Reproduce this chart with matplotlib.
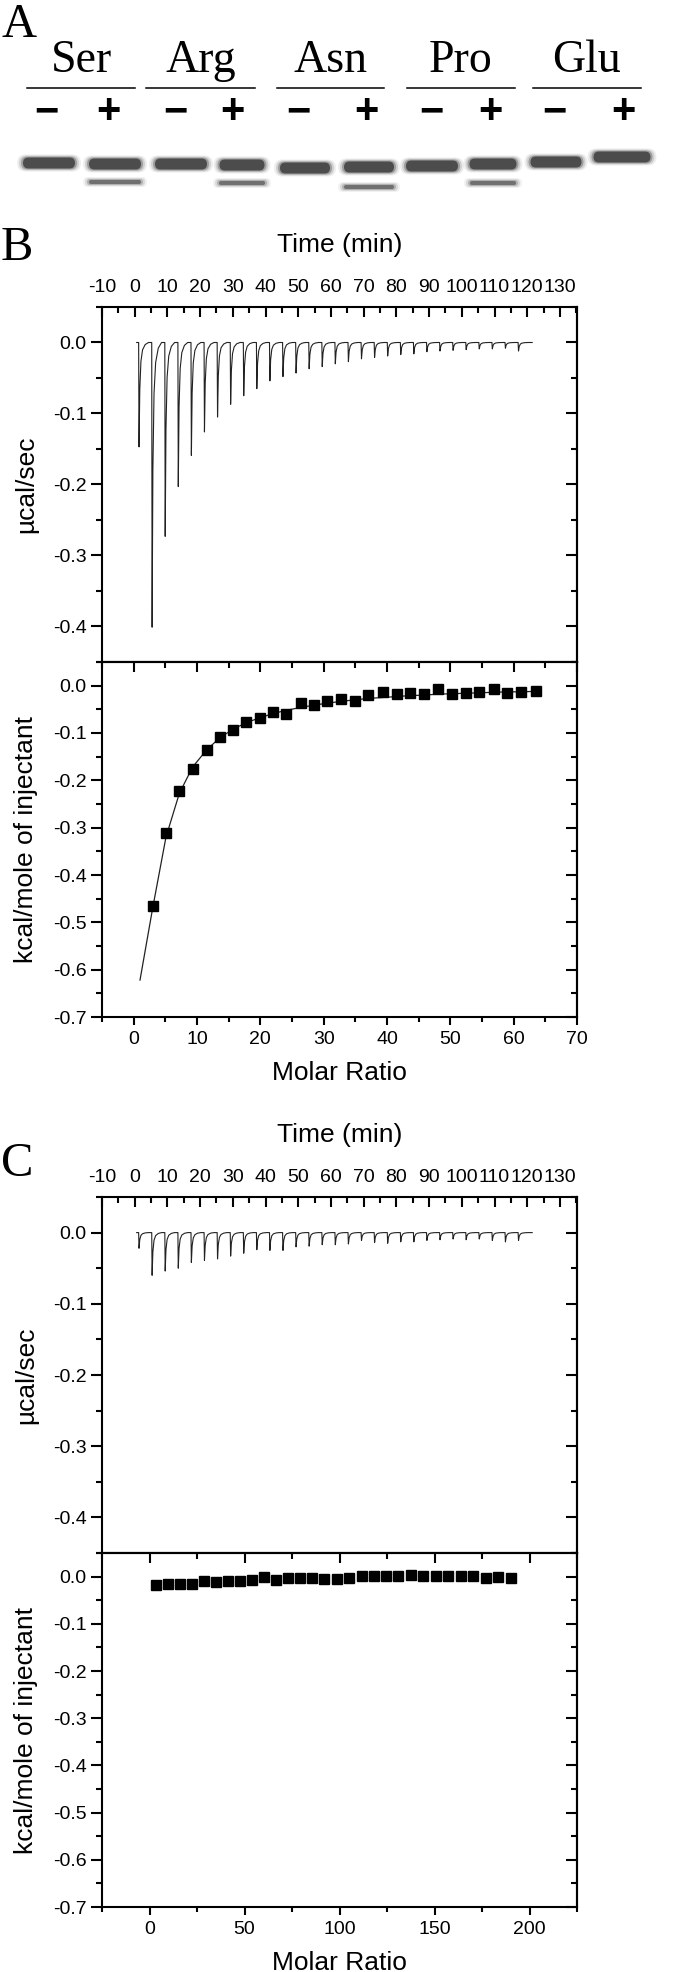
import matplotlib
matplotlib.use('Agg')
import matplotlib.pyplot as plt
from matplotlib.patches import FancyBboxPatch
from matplotlib.ticker import MultipleLocator, FormatStrFormatter

W, H = 680, 1972

plt.rcParams['font.family'] = ['Liberation Sans', 'DejaVu Sans']
plt.rcParams['axes.unicode_minus'] = False

# ---- panel A: gel ----
lane_names = ['Ser', 'Arg', 'Asn', 'Pro', 'Glu']
group_x = [(27, 135), (146, 255), (277, 384), (407, 515), (533, 641)]
lane_x = [49, 115, 181, 242, 305, 369, 432, 493, 556, 622]
lane_sign = ['−', '+'] * 5
sign_x = [46, 108, 175, 232, 298, 366, 431, 490, 554, 623]
lane_w = [52, 52, 52, 45, 50, 50, 52, 47, 51, 57]
main_y = [163, 164, 164, 165, 168, 167, 166, 164, 162, 157]
lower_y = [None, 182, None, 183, None, 187, None, 183, None, None]
lower_w = [0, 52, 0, 46, 0, 50, 0, 46, 0, 0]

# ---- panel B / C: raw ITC traces ----
inj_time = [1.2, 5.2, 9.2, 13.2, 17.2, 21.2, 25.2, 29.2, 33.2, 37.2,
            41.2, 45.2, 49.2, 53.2, 57.2, 61.2, 65.2, 69.2, 73.2, 77.2,
            81.2, 85.2, 89.2, 93.2, 97.2, 101.2, 105.2, 109.2, 113.2, 117.2]
peak_b = [0.147, 0.401, 0.273, 0.203, 0.159, 0.126, 0.105, 0.087, 0.075, 0.065,
          0.054, 0.048, 0.043, 0.037, 0.034, 0.030, 0.027, 0.023, 0.021, 0.019,
          0.017, 0.016, 0.013, 0.012, 0.011, 0.010, 0.009, 0.009, 0.008, 0.012]
peak_c = [0.022, 0.060, 0.054, 0.050, 0.042, 0.039, 0.037, 0.033, 0.029, 0.024,
          0.025, 0.025, 0.020, 0.019, 0.017, 0.017, 0.016, 0.011, 0.014, 0.015,
          0.013, 0.013, 0.011, 0.010, 0.009, 0.010, 0.009, 0.011, 0.013, 0.011]

# ---- integrated heats ----
ratio_b = [3.0, 5.1, 7.2, 9.3, 11.5, 13.6, 15.7, 17.8, 19.9, 22.0,
           24.1, 26.4, 28.5, 30.6, 32.8, 34.9, 37.0, 39.3, 41.5, 43.6,
           45.8, 48.0, 50.2, 52.5, 54.6, 56.9, 59.0, 61.2, 63.5]
heat_b = [-0.465, -0.311, -0.223, -0.176, -0.136, -0.108, -0.093, -0.076, -0.069, -0.055,
          -0.060, -0.037, -0.041, -0.033, -0.028, -0.032, -0.019, -0.013, -0.018, -0.015,
          -0.018, -0.008, -0.018, -0.015, -0.014, -0.006, -0.015, -0.013, -0.011]
fit_x = [1.0, 3.0, 5.1, 7.2, 9.3, 11.5, 13.6, 15.7, 17.8, 19.9, 22.0, 24.1, 26.4,
         28.5, 30.6, 32.8, 34.9, 37.0, 39.3, 41.5, 43.6, 45.8, 48.0, 50.2, 52.5,
         54.6, 56.9, 59.0, 61.2, 63.5]
fit_y = [-0.622, -0.470, -0.320, -0.228, -0.172, -0.136, -0.110, -0.092, -0.078, -0.068,
         -0.059, -0.052, -0.046, -0.041, -0.037, -0.033, -0.030, -0.027, -0.025, -0.023,
         -0.021, -0.020, -0.018, -0.017, -0.016, -0.015, -0.014, -0.013, -0.013, -0.012]
ratio_c = [3.3, 9.6, 15.9, 22.3, 28.6, 34.9, 41.3, 47.6, 53.9, 60.0,
           66.4, 72.7, 79.0, 85.6, 91.9, 98.5, 105.0, 111.6, 117.9, 124.5,
           131.0, 137.6, 144.1, 150.7, 157.2, 163.8, 170.5, 177.1, 183.6, 190.2]
heat_c = [-0.0176, -0.0148, -0.0148, -0.0148, -0.0092, -0.0113, -0.0099, -0.0099, -0.0077, -0.0007,
          -0.0070, -0.0035, -0.0021, -0.0021, -0.0042, -0.0042, -0.0035, 0.0007, 0.0014, 0.0007,
          0.0021, 0.0035, 0.0007, 0.0020, 0.0020, 0.0020, 0.0014, -0.0035, -0.0007, -0.0020]

LEFT, RIGHT = 102, 577


def rect(l, t, r, b):
    return [l / W, 1 - b / H, (r - l) / W, (b - t) / H]


def style_left(ax):
    ax.yaxis.set_major_locator(MultipleLocator(0.1))
    ax.yaxis.set_minor_locator(MultipleLocator(0.05))
    ax.yaxis.set_major_formatter(FormatStrFormatter('%.1f'))
    ax.tick_params(axis='y', which='both', direction='out', left=True, right=False,
                   labelsize=14, pad=3, width=1.5)
    ax.tick_params(axis='y', which='major', length=8)
    ax.tick_params(axis='y', which='minor', length=4.5)
    sec = ax.secondary_yaxis('right')
    sec.yaxis.set_major_locator(MultipleLocator(0.1))
    sec.yaxis.set_minor_locator(MultipleLocator(0.05))
    sec.tick_params(which='both', direction='in', labelright=False, width=1.5)
    sec.tick_params(which='major', length=8)
    sec.tick_params(which='minor', length=4.5)
    sec.spines['right'].set_linewidth(1.5)
    for s in ax.spines.values():
        s.set_linewidth(1.5)
    ax.yaxis.set_label_coords(-0.135, 0.5)


def raw_panel(ax, depths):
    shape_dt = [0.0, 0.12, 0.35, 0.7, 1.2, 2.0, 3.0]
    shape_fr = [0.0, 1.0, 0.45, 0.18, 0.07, 0.02, 0.0]
    tt, yy = [0.6], [0.0]
    for t, d in zip(inj_time, depths):
        for dt, fr in zip(shape_dt, shape_fr):
            tt.append(t + dt)
            yy.append(-d * fr)
    tt.append(121.5)
    yy.append(0.0)
    ax.plot(tt, yy, color='#222222', lw=0.8)
    ax.set_xlim(-10, 135.2)
    ax.set_ylim(-0.45, 0.05)
    ax.xaxis.tick_top()
    ax.xaxis.set_label_position('top')
    ax.xaxis.set_major_locator(MultipleLocator(10))
    ax.xaxis.set_minor_locator(MultipleLocator(5))
    ax.tick_params(axis='x', which='both', direction='in', top=True, bottom=False,
                   labeltop=True, labelbottom=False, labelsize=14, pad=8, width=1.5)
    ax.tick_params(axis='x', which='major', length=7)
    ax.tick_params(axis='x', which='minor', length=4)
    ax.set_xlabel('Time (min)', fontsize=19)
    ax.xaxis.set_label_coords(0.5, 1.155)
    ax.set_ylabel('µcal/sec', fontsize=19)
    style_left(ax)


def heat_panel(ax, x, y, xlim, major, minor, fit=None):
    if fit is not None:
        ax.plot(fit[0], fit[1], color='#222222', lw=0.9)
    ax.plot(x, y, 's', ms=7.5, color='black')
    ax.set_xlim(*xlim)
    ax.set_ylim(-0.7, 0.05)
    ax.xaxis.set_major_locator(MultipleLocator(major))
    ax.xaxis.set_minor_locator(MultipleLocator(minor))
    ax.tick_params(axis='x', which='both', direction='out', top=False, bottom=True,
                   labelsize=14, pad=4, width=1.5)
    ax.tick_params(axis='x', which='major', length=6)
    ax.tick_params(axis='x', which='minor', length=3.5)
    sec = ax.secondary_xaxis('top')
    sec.xaxis.set_major_locator(MultipleLocator(major))
    sec.xaxis.set_minor_locator(MultipleLocator(minor))
    sec.tick_params(which='both', direction='in', labeltop=False, width=1.5)
    sec.tick_params(which='major', length=7)
    sec.tick_params(which='minor', length=4)
    sec.spines['top'].set_linewidth(1.5)
    ax.set_xlabel('Molar Ratio', fontsize=19)
    ax.xaxis.set_label_coords(0.5, -0.125)
    ax.set_ylabel('kcal/mole of injectant', fontsize=19)
    style_left(ax)


fig = plt.figure(figsize=(W / 100, H / 100), dpi=100)

# gel
axg = fig.add_axes([0, 1 - 250 / H, 1, 250 / H])
axg.set_xlim(0, W)
axg.set_ylim(250, 0)
axg.axis('off')
serif = ['Liberation Serif', 'DejaVu Serif']
for name, (x0, x1) in zip(lane_names, group_x):
    axg.plot([x0, x1], [87.5, 87.5], color='black', lw=1.1)
    axg.text((x0 + x1) / 2, 72, name, family=serif, fontsize=33,
             ha='center', va='baseline')
for s, x in zip(lane_sign, sign_x):
    axg.text(x, 112, s, fontsize=30, fontweight='bold', ha='center', va='center')


def band(x, y, w, h, col):
    for grow, alpha in [(6, 0.08), (4, 0.15), (2, 0.3), (0, 0.7)]:
        axg.add_patch(FancyBboxPatch((x - w / 2 - grow, y - h / 2 - grow / 2),
                                     w + 2 * grow, h + grow,
                                     boxstyle='round,pad=0,rounding_size=%.1f' % (h / 2 + grow / 2),
                                     fc=col, ec='none', alpha=alpha))


for i, x in enumerate(lane_x):
    band(x, main_y[i], lane_w[i], 11, '#2a2a2a')
    if lower_y[i] is not None:
        band(x, lower_y[i], lower_w[i], 4, '#555555')

fig.text(1 / W, 1 - 37 / H, 'A', family=serif, fontsize=35, va='baseline')
fig.text(1 / W, 1 - 260 / H, 'B', family=serif, fontsize=35, va='baseline')
fig.text(1 / W, 1 - 1176 / H, 'C', family=serif, fontsize=35, va='baseline')

axB1 = fig.add_axes(rect(LEFT, 307, RIGHT, 662))
raw_panel(axB1, peak_b)
axB2 = fig.add_axes(rect(LEFT, 662, RIGHT, 1017))
heat_panel(axB2, ratio_b, heat_b, (-5, 70), 10, 5, fit=(fit_x, fit_y))

axC1 = fig.add_axes(rect(LEFT, 1197, RIGHT, 1553))
raw_panel(axC1, peak_c)
axC2 = fig.add_axes(rect(LEFT, 1553, RIGHT, 1907))
heat_panel(axC2, ratio_c, heat_c, (-25, 225), 50, 25)

fig.savefig('out.png', dpi=100)
